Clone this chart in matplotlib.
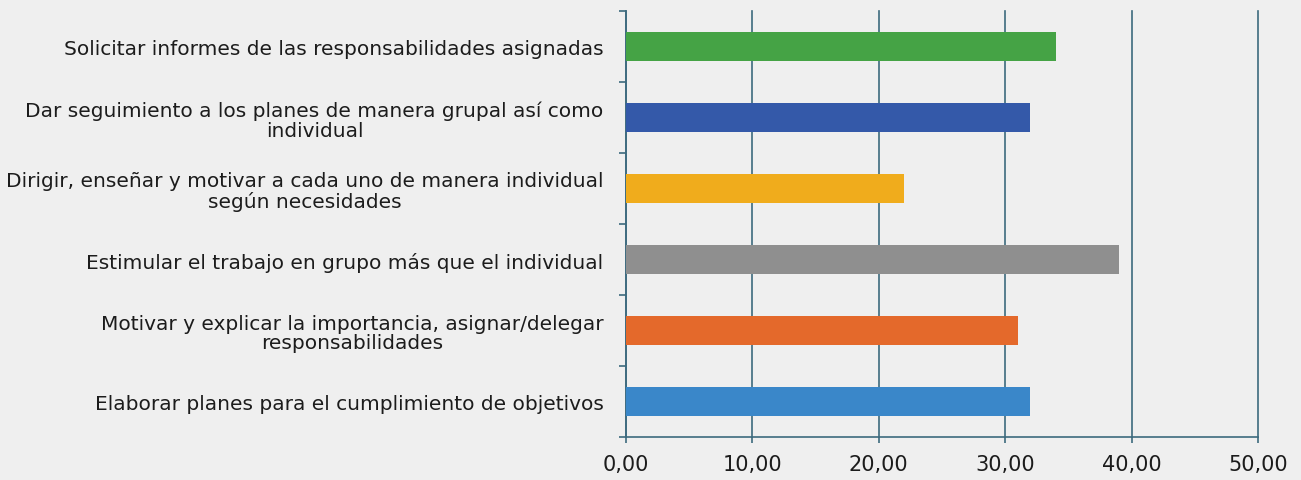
import matplotlib.pyplot as plt
import numpy as np

# acciones y porcentajes
acciones = [
    'Solicitar informes de las responsabilidades asignadas',
    'Dar seguimiento a los planes de manera grupal así como\nindividual',
    'Dirigir, enseñar y motivar a cada uno de manera individual\nsegún necesidades',
    'Estimular el trabajo en grupo más que el individual',
    'Motivar y explicar la importancia, asignar/delegar\nresponsabilidades',
    'Elaborar planes para el cumplimiento de objetivos',
]
valores = [34.0, 32.0, 22.0, 39.0, 31.0, 32.0]
colores = ['#45a345', '#3459a9', '#f0ac1c', '#8f8f8f', '#e4692b', '#3a87c9']
xticks = [0, 10, 20, 30, 40, 50]

plt.rcParams['font.family'] = ['DejaVu Sans']
fondo = '#efefef'
linea = '#3d6a7e'
texto = '#1c1c1c'

fig = plt.figure(figsize=(13.01, 4.81), dpi=100, facecolor=fondo)
ax = fig.add_axes([0.481, 0.089, 0.486, 0.886], facecolor=fondo)

y = np.arange(len(acciones))
ax.barh(y, valores, height=0.4, color=colores, zorder=3)
ax.set_ylim(len(acciones) - 0.5, -0.5)
ax.set_xlim(0, 50)

ax.set_xticks(xticks)
ax.set_xticklabels(['%d,00' % v for v in xticks], fontsize=15, color=texto)
ax.set_yticks(y)
ax.set_yticklabels(acciones, fontsize=14.5, color=texto,
                   multialignment='center', linespacing=1.05)
ax.set_yticks(np.arange(-0.5, len(acciones)), minor=True)

ax.tick_params(axis='y', which='major', length=0, pad=16)
ax.tick_params(axis='y', which='minor', length=5, color=linea, width=1.2)
ax.tick_params(axis='x', length=4, color=linea, width=1.2, pad=8)

ax.grid(axis='x', color=linea, linewidth=1.2, zorder=0)
for g in ax.get_xgridlines():
    g.set_clip_on(False)
for s in ['top', 'right']:
    ax.spines[s].set_visible(False)
for s in ['left', 'bottom']:
    ax.spines[s].set_color(linea)
    ax.spines[s].set_linewidth(1.2)

fig.savefig('out.png', dpi=100, facecolor=fondo)
